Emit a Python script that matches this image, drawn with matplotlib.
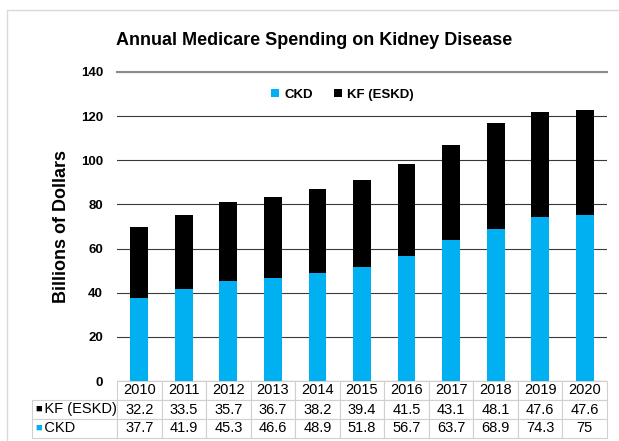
import numpy as np
import matplotlib.pyplot as plt
from matplotlib.patches import Rectangle

plt.rcParams['font.family'] = ['Liberation Sans', 'DejaVu Sans']

years = ['2010', '2011', '2012', '2013', '2014', '2015', '2016', '2017', '2018', '2019', '2020']
ckd = [37.7, 41.9, 45.3, 46.6, 48.9, 51.8, 56.7, 63.7, 68.9, 74.3, 75]
kf_eskd = [32.2, 33.5, 35.7, 36.7, 38.2, 39.4, 41.5, 43.1, 48.1, 47.6, 47.6]
series_names = ['CKD', 'KF (ESKD)']
colors = ['#00B0F0', '#000000']

fig = plt.figure(figsize=(6.19, 4.41), dpi=100)
ax = fig.add_axes([117 / 619, 1 - 381 / 441, 490 / 619, 309 / 441])

# light frame around the chart
fig.patches.append(Rectangle((7 / 619, -0.1), 1.2, 1 - 10 / 441 + 0.1, transform=fig.transFigure,
                             fill=False, edgecolor='#d9d9d9', lw=1))

x = np.arange(len(years))
ax.bar(x, ckd, width=0.4, color=colors[0], label=series_names[0], zorder=3)
ax.bar(x, kf_eskd, width=0.4, bottom=ckd, color=colors[1], label=series_names[1], zorder=3)

ax.set_xlim(-0.5, len(years) - 0.5)
ax.set_ylim(0, 140)
ax.set_yticks(range(0, 141, 20))
ax.set_xticks([])
ax.tick_params(axis='y', length=0, pad=10, labelsize=9.5)
for lbl in ax.get_yticklabels():
    lbl.set_fontweight('bold')
ax.grid(axis='y', color='#3a3a3a', lw=0.8, zorder=0)
for s in ['left', 'right', 'bottom']:
    ax.spines[s].set_visible(False)
ax.spines['top'].set_color('#8c8c8c')
ax.spines['top'].set_linewidth(1.5)

ax.set_ylabel('Billions of Dollars', fontsize=13, fontweight='bold', labelpad=8)

fig.text(0.507, 0.909, 'Annual Medicare Spending on Kidney Disease', ha='center', va='center',
         fontsize=13, fontweight='bold')

leg = ax.legend(loc='upper center', bbox_to_anchor=(0.46, 0.985), ncol=2, frameon=False,
                prop={'weight': 'bold', 'size': 9.5}, handlelength=0.6, handleheight=0.6,
                handletextpad=0.4, columnspacing=1.6)

# data table below the axis: header row + two data rows, first column holds row labels
cell_text = [[''] + years,
             ['   ' + series_names[1]] + [f'{v:g}' for v in kf_eskd],
             ['   ' + series_names[0]] + [f'{v:g}' for v in ckd]]
col_widths = [85 / 490] + [1 / len(years)] * len(years)
tab = ax.table(cellText=cell_text, colWidths=col_widths, cellLoc='center',
               bbox=[-85 / 490, -57 / 309, 575 / 490, 57 / 309])
tab.auto_set_font_size(False)
tab.set_fontsize(10.5)
for (r, c), cell in tab.get_celld().items():
    cell.set_edgecolor('#d0d0d0')
    cell.set_linewidth(0.8)
    if c == 0:
        cell.set_text_props(ha='left')
        cell.PAD = 0.0
        if r == 0:
            cell.set_edgecolor('none')

# colour keys in the row labels
ax.text(-0.167, -0.088, '\u25A0', color=colors[1], transform=ax.transAxes, va='center', ha='left', fontsize=8)
ax.text(-0.167, -0.152, '\u25A0', color=colors[0], transform=ax.transAxes, va='center', ha='left', fontsize=8)

fig.savefig('out.png', dpi=100)
